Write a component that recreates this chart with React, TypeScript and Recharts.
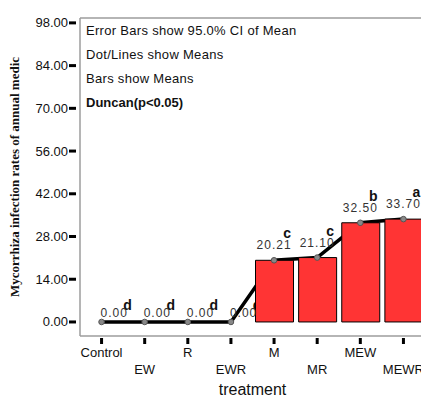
import { ComposedChart, Bar, Line, XAxis, YAxis, ReferenceLine, LabelList } from "recharts";

// treatment groups, means and Duncan letters
const TREATMENTS = ["Control", "EW", "R", "EWR", "M", "MR", "MEW", "MEWR"];
const MEANS = [0, 0, 0, 0, 20.21, 21.1, 32.5, 33.7];
const LETTERS = ["d", "d", "d", "d", "c", "c", "b", "a"];
const Y_TICKS = [0, 14, 28, 42, 56, 70, 84, 98];
const NOTES = ["Error Bars show 95.0% CI of Mean", "Dot/Lines show Means", "Bars show Means"];
const NOTE_BOLD = "Duncan(p<0.05)";

const Y_MIN = -4.6;
const Y_MAX = 99.6;

const FONT = "'Liberation Sans', Arial, sans-serif";
const FRAME = "#9c9c9c";
const W = 440;
const H = 398;
const MARGIN = { top: 18, right: 15, bottom: 0, left: 0 };

const data = TREATMENTS.map((name, i) => ({ name, mean: MEANS[i], letter: LETTERS[i] }));

function YTick({ x, y, payload }: any) {
  return (
    <g>
      <line x1={x - 11} x2={x - 4} y1={y} y2={y} stroke="#000" strokeWidth={3} />
      <text x={x - 12} y={y} dy={4.5} textAnchor="end" fontSize={13} fontFamily={FONT} fill="#111">
        {Number(payload.value).toFixed(2)}
      </text>
    </g>
  );
}

function XTick({ x, y, payload, index }: any) {
  return (
    <g>
      <line x1={x} x2={x} y1={y + 2} y2={y + 8} stroke="#000" strokeWidth={3} />
      <text x={x} y={y + (index % 2 === 0 ? 21 : 38)} textAnchor="middle" fontSize={13} fontFamily={FONT} fill="#111">
        {payload.value}
      </text>
    </g>
  );
}

function ValueLabel({ x, y, index }: any) {
  const v = MEANS[index];
  const zero = v === 0;
  return (
    <text
      x={zero ? x - 1 : x}
      y={zero ? y - 5 : y - 11}
      textAnchor={zero ? "start" : "middle"}
      fontSize={12}
      letterSpacing={1}
      fontFamily={FONT}
      fill="#333"
    >
      {v.toFixed(2)}
    </text>
  );
}

function LetterLabel({ x, y, index, value }: any) {
  const zero = MEANS[index] === 0;
  return (
    <text
      x={x + (zero ? 26 : 13)}
      y={y - (zero ? 12 : 22)}
      textAnchor="middle"
      fontSize={14}
      fontWeight="bold"
      fontFamily={FONT}
      fill="#111"
    >
      {value}
    </text>
  );
}

const layer: React.CSSProperties = { position: "absolute", left: 0, top: 0 };

export default function App() {
  return (
    <div style={{ position: "absolute", left: 0, top: 0, width: 421, height: 398, overflow: "hidden", background: "#fff" }}>
      {/* bottom layer: mean line and letters, so bars cover it */}
      <div style={layer}>
        <ComposedChart width={W} height={H} data={data} margin={MARGIN}>
          <XAxis dataKey="name" scale="band" interval={0} height={62} axisLine={false} tickLine={false} tick={false} />
          <YAxis width={80} domain={[Y_MIN, Y_MAX]} ticks={Y_TICKS} allowDataOverflow axisLine={false} tickLine={false} tick={false} />
          <Line dataKey="mean" stroke="#000" strokeWidth={3.5} dot={false} isAnimationActive={false}>
            <LabelList dataKey="letter" content={<LetterLabel />} />
          </Line>
        </ComposedChart>
      </div>
      {/* top layer: axes, frame, bars, dots, values */}
      <div style={layer}>
        <ComposedChart width={W} height={H} data={data} margin={MARGIN}>
          <XAxis
            dataKey="name"
            scale="band"
            interval={0}
            height={62}
            axisLine={{ stroke: FRAME, strokeWidth: 1.5 }}
            tickLine={false}
            tickSize={0}
            tickMargin={0}
            tick={<XTick />}
            label={{ value: "treatment", position: "insideBottom", offset: 3, fontSize: 16, fontFamily: FONT, fill: "#111" }}
          />
          <YAxis
            width={80}
            domain={[Y_MIN, Y_MAX]}
            ticks={Y_TICKS}
            allowDataOverflow
            axisLine={{ stroke: FRAME, strokeWidth: 1.5 }}
            tickLine={false}
            tickSize={0}
            tickMargin={0}
            tick={<YTick />}
            label={{
              value: "Mycorrhiza infection rates of annual medic",
              angle: -90,
              position: "insideLeft",
              offset: 14,
              fontSize: 13,
              fontWeight: "bold",
              fontFamily: "'Liberation Serif', 'Times New Roman', serif",
              fill: "#111",
              style: { textAnchor: "middle" },
            }}
          />
          <ReferenceLine y={Y_MAX} stroke={FRAME} strokeWidth={1.5} />
          <Bar dataKey="mean" barSize={38} fill="#ff3434" stroke="#000" strokeWidth={1} isAnimationActive={false} />
          <Line
            dataKey="mean"
            stroke="none"
            dot={{ r: 2.8, fill: "#888", stroke: "#555", strokeWidth: 1 }}
            isAnimationActive={false}
          >
            <LabelList dataKey="mean" content={<ValueLabel />} />
          </Line>
        </ComposedChart>
      </div>
      <svg width={421} height={398} style={{ ...layer, pointerEvents: "none" }}>
        {NOTES.map((t, i) => (
          <text key={t} x={86} y={35 + i * 24} fontSize={13} letterSpacing={0.3} fontFamily={FONT} fill="#111">
            {t}
          </text>
        ))}
        <text x={86} y={107} fontSize={13} fontWeight="bold" fontFamily={FONT} fill="#111">
          {NOTE_BOLD}
        </text>
      </svg>
    </div>
  );
}
